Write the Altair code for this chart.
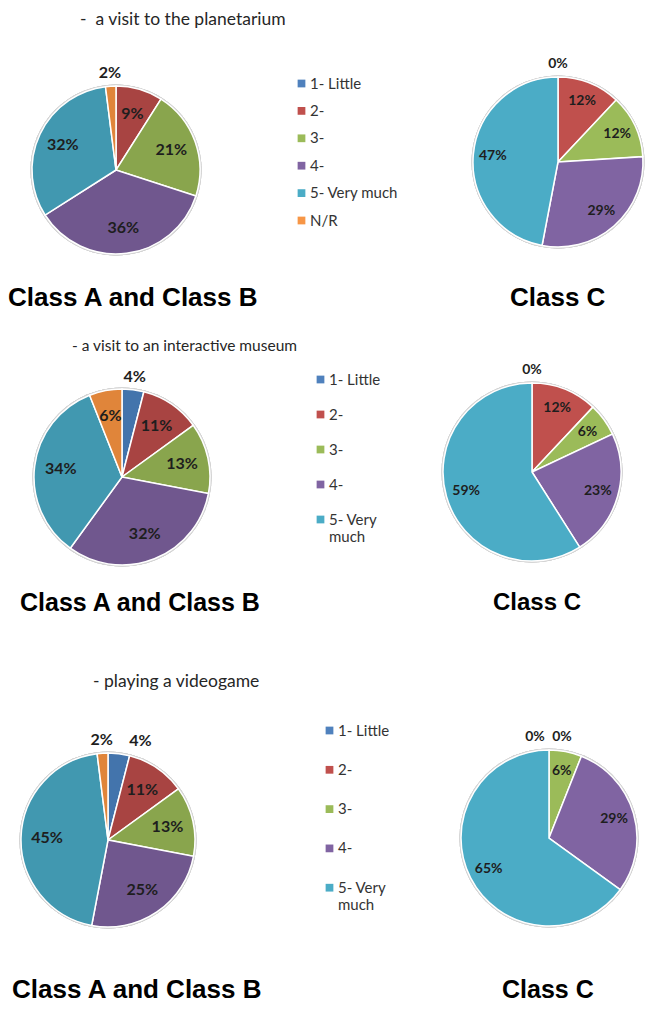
import altair as alt
import pandas as pd

# ---------------- data ----------------
categories = ["1- Little", "2-", "3-", "4-", "5- Very much", "N/R"]

planet_ab = [0, 9, 21, 36, 32, 2]
planet_c = [0, 12, 12, 29, 47]
museum_ab = [4, 11, 13, 32, 34, 6]
museum_c = [0, 12, 6, 23, 59]
video_ab = [4, 11, 13, 25, 45, 2]
video_c = [0, 0, 6, 29, 65]

subtitles = ["-\u00a0 a visit to the planetarium",
             "- a visit to an interactive museum",
             "- playing a videogame"]
group_ab = "Class A and Class B"
group_c = "Class C"

# ---------------- style ----------------
legend_colors = ["#4F81BD", "#C0504D", "#9BBB59", "#8064A2", "#4BACC6", "#F79646"]
dark_colors = ["#4374AC", "#A84442", "#89A54D", "#70578E", "#4198B0", "#E0853A"]
FONT = "Lato"
TITLE_FONT = "Liberation Sans"
W, H = 641, 996


def frame(values, is_ab):
    rows = []
    for i, v in enumerate(values):
        pct = f"{v}%"
        if is_ab:
            inside = pct if v > 4 else ""
            outside = pct if 0 < v <= 4 else ""
        else:
            inside = pct if v > 0 else ""
            outside = pct if v == 0 else ""
        rows.append({"category": categories[i], "value": v, "idx": i,
                     "lab_in": inside, "lab_out": outside})
    return pd.DataFrame(rows)


def pie(values, is_ab, cx, cy, r, fsize, legend=None, domain_n=None,
        shifts=None):
    df = frame(values, is_ab)
    shifts = shifts or {}
    df["lab_gen"] = [("" if c in shifts else t) for c, t in zip(df.category, df.lab_out)]
    base = alt.Chart(df)
    theta = alt.Theta("value:Q", stack=True)
    order = alt.Order("idx:Q")
    dn = domain_n or len(values)
    colors = dark_colors if is_ab else legend_colors
    scale = alt.Scale(domain=categories[:dn], range=colors[:dn])
    pos = dict(x=alt.value(cx), y=alt.value(cy))
    halo = base.mark_arc(radius=r + 1.5, theta=0, theta2=6.2832,
                         color="#d4d4d4").encode(**pos)
    arcs = base.mark_arc(radius=r, stroke="white", strokeWidth=1.5).encode(
        theta=theta, order=order,
        color=alt.Color("category:N", scale=scale,
                        legend=legend if legend is not None else None),
        **pos)
    frac = 0.7 if is_ab else 0.77
    tstyle = dict(fontSize=fsize, fontWeight="bold", font=FONT, color="#1e1e1e")
    t_in = base.mark_text(radius=r * frac, **tstyle).encode(
        theta=theta, order=order, text="lab_in:N", **pos)
    t_out = base.mark_text(radius=r + 13, **tstyle).encode(
        theta=theta, order=order, text="lab_gen:N", **pos)
    layers = [halo, arcs, t_in, t_out]
    for cat, dx in shifts.items():
        df2 = df.copy()
        df2["lab_s"] = [t if c == cat else "" for c, t in zip(df2.category, df2.lab_out)]
        layers.append(alt.Chart(df2).mark_text(radius=r + 13, dx=dx, **tstyle).encode(
            theta=theta, order=order, text="lab_s:N", **pos))
    return layers


def make_legend(x, y, row_pad, wrap):
    expr = "datum.label"
    if wrap:
        expr = "datum.label == '5- Very much' ? ['5- Very', 'much'] : datum.label"
    return alt.Legend(title=None, orient="none", legendX=x, legendY=y,
                      symbolType="square", symbolSize=60, symbolStrokeWidth=0,
                      labelFont=FONT, labelFontSize=15, labelColor="#333333",
                      labelOffset=1, rowPadding=row_pad, padding=0,
                      labelExpr=expr, labelBaseline="middle")


def text(t, x, y, size, font, weight="normal", color="#262626"):
    return alt.Chart(pd.DataFrame({"t": [t]})).mark_text(
        align="left", baseline="middle", fontSize=size, font=font,
        fontWeight=weight, color=color).encode(
        text="t:N", x=alt.value(x), y=alt.value(y))


layers = []
# row 1
layers += [text(subtitles[0], 72, 12, 17.5, FONT)]
layers += pie(planet_ab, True, 108, 162, 84, 16)
layers += pie(planet_c, False, 550, 154, 85, 14,
              legend=make_legend(286, 68, 11.4, False), domain_n=6)
layers += [text(group_ab, 0, 290, 26, TITLE_FONT, "bold", "#000000"),
           text(group_c, 502, 290, 26, TITLE_FONT, "bold", "#000000")]
# row 2
layers += [text(subtitles[1], 64, 338, 15.5, FONT)]
layers += pie(museum_ab, True, 114, 469, 88, 16)
layers += pie(museum_c, False, 524, 464, 89, 14,
              legend=make_legend(305, 364, 19, True), domain_n=5)
layers += [text(group_ab, 12, 595, 25, TITLE_FONT, "bold", "#000000"),
           text(group_c, 485, 595, 24, TITLE_FONT, "bold", "#000000")]
# row 3
layers += [text(subtitles[2], 85, 674, 17.5, FONT)]
layers += pie(video_ab, True, 100, 832, 87, 16, shifts={"1- Little": 20})
layers += pie(video_c, False, 541, 830, 88, 14,
              legend=make_legend(314, 715, 23.3, True), domain_n=5,
              shifts={"1- Little": -14, "2-": 13})
layers += [text(group_ab, 4, 982, 26, TITLE_FONT, "bold", "#000000"),
           text(group_c, 494, 982, 25, TITLE_FONT, "bold", "#000000")]

chart = alt.layer(*layers).resolve_scale(color="independent").properties(
    width=W, height=H, padding=0, autosize=alt.AutoSizeParams(type="none")
).configure_view(stroke=None)

chart.save("out.html", embed_options={"renderer": "svg", "actions": False})
